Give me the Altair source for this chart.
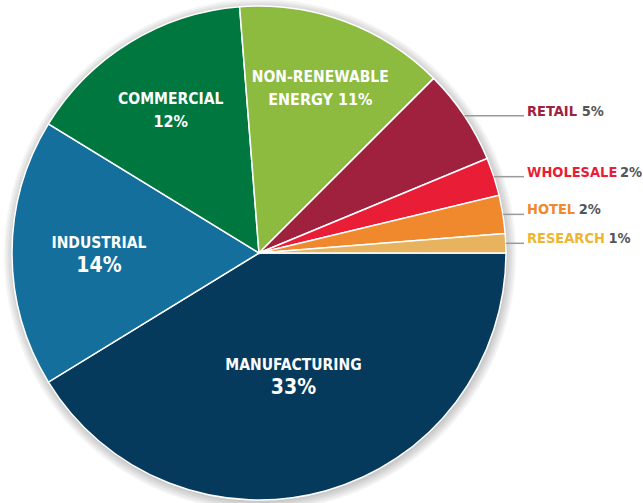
import math
import altair as alt
import pandas as pd

# ---- data ----
categories = ["MANUFACTURING", "INDUSTRIAL", "COMMERCIAL", "NON-RENEWABLE ENERGY",
              "RETAIL", "WHOLESALE", "HOTEL", "RESEARCH"]
values = [33, 14, 12, 11, 5, 2, 2, 1]
line1 = ["MANUFACTURING", "INDUSTRIAL", "COMMERCIAL", "NON-RENEWABLE", "RETAIL", "WHOLESALE", "HOTEL", "RESEARCH"]
line2 = ["33%", "14%", "12%", "ENERGY 11%", "5%", "2%", "2%", "1%"]

# ---- styles ----
slice_colors = ["#053a5c", "#156f9c", "#00773f", "#8cbb40", "#a0213e", "#e91d36", "#f0882d", "#e7b35f"]
name_colors = ["#ffffff", "#ffffff", "#ffffff", "#ffffff", "#a0213e", "#e91d36", "#f0882d", "#f0b52e"]
inside = [True, True, True, True, False, False, False, False]
label_r_frac = [0.514, 0.648, 0.684, 0.717, 1, 1, 1, 1]
big_pct = ["MANUFACTURING", "INDUSTRIAL"]

CX, CY, R = 259, 253, 247
FONT = "DejaVu Sans Condensed"
OUT_SIZE = 14.5
OUT_X = 527
TAU = 2 * math.pi

# approximate advance widths (DejaVu Sans Bold, units/2048), condensed ~0.9
_adv = {"A": 1585, "C": 1501, "E": 1397, "G": 1683, "H": 1714, "I": 764, "L": 1306,
        "N": 1714, "O": 1741, "R": 1579, "S": 1474, "T": 1399, "W": 2110, " ": 560}


def text_w(s, size):
    return sum(_adv.get(c, 1450) for c in s) / 2048 * 0.9 * size


df = pd.DataFrame({
    "cat": categories, "value": values, "l1": line1, "l2": line2,
    "order": list(range(len(categories))), "inside": inside,
    "lr": [f * R for f in label_r_frac],
    "pctx": [OUT_X + text_w(a + " ", OUT_SIZE) for a in line1],
})

color_scale = alt.Scale(domain=categories, range=slice_colors)
name_scale = alt.Scale(domain=categories, range=name_colors)

# shadow rings
shadow = alt.layer(*[
    alt.Chart(pd.DataFrame({"k": [0]})).mark_arc(
        radius=R + d, theta=0, theta2=TAU, opacity=0.045, color="#000000"
    ).encode(x=alt.value(CX + 1), y=alt.value(CY + 2))
    for d in [1, 3, 5, 7, 9]
])

pie = alt.Chart(df).mark_arc(radius=R, stroke="white", strokeWidth=1.5).encode(
    theta=alt.Theta("value:Q", stack=True, scale=alt.Scale(range=[math.pi / 2, math.pi / 2 + TAU])),
    order=alt.Order("order:Q"),
    color=alt.Color("cat:N", scale=color_scale, legend=None),
    x=alt.value(CX), y=alt.value(CY),
)

base = alt.Chart(df).transform_window(
    cum="sum(value)", sort=[alt.SortField("order")], frame=[None, 0]
).transform_joinaggregate(total="sum(value)").transform_calculate(
    mid="(datum.cum - datum.value/2) / datum.total * 2 * PI"
).transform_calculate(
    px=f"{CX} + datum.lr * cos(datum.mid)",
    py=f"{CY} + datum.lr * sin(datum.mid)",
    ex=f"{CX} + {R} * cos(datum.mid)",
)

ins = base.transform_filter("datum.inside")
outs = base.transform_filter("!datum.inside")

t1 = ins.mark_text(font=FONT, fontWeight="bold", fontSize=15.5, color="white", baseline="middle", align="center", dy=-10).encode(
    x=alt.X("px:Q", scale=None), y=alt.Y("py:Q", scale=None), text="l1:N")
t2 = ins.mark_text(font=FONT, fontWeight="bold", color="white", baseline="middle", align="center", dy=13).encode(
    x=alt.X("px:Q", scale=None), y=alt.Y("py:Q", scale=None), text="l2:N",
    size=alt.condition(alt.FieldOneOfPredicate(field="cat", oneOf=big_pct), alt.value(21), alt.value(16)))

rules = outs.mark_rule(color="#9a9a9a", strokeWidth=1.5).encode(
    x=alt.X("ex:Q", scale=None), x2=alt.value(OUT_X - 3), y=alt.Y("py:Q", scale=None))
oname = outs.mark_text(font=FONT, fontWeight="bold", fontSize=OUT_SIZE, align="left", baseline="alphabetic").encode(
    x=alt.value(OUT_X), y=alt.Y("py:Q", scale=None), text="l1:N",
    color=alt.Color("cat:N", scale=name_scale, legend=None))
opct = outs.mark_text(font=FONT, fontWeight="bold", fontSize=OUT_SIZE, color="#555555", align="left", baseline="alphabetic").encode(
    x=alt.X("pctx:Q", scale=None), y=alt.Y("py:Q", scale=None), text="l2:N")

chart = alt.layer(shadow, pie, t1, t2, rules, oname, opct).resolve_scale(color="independent").properties(
    width=643, height=503, autosize="none", padding=0
).configure_view(stroke=None)

chart.save("out.html", embed_options={"renderer": "svg", "actions": False})
